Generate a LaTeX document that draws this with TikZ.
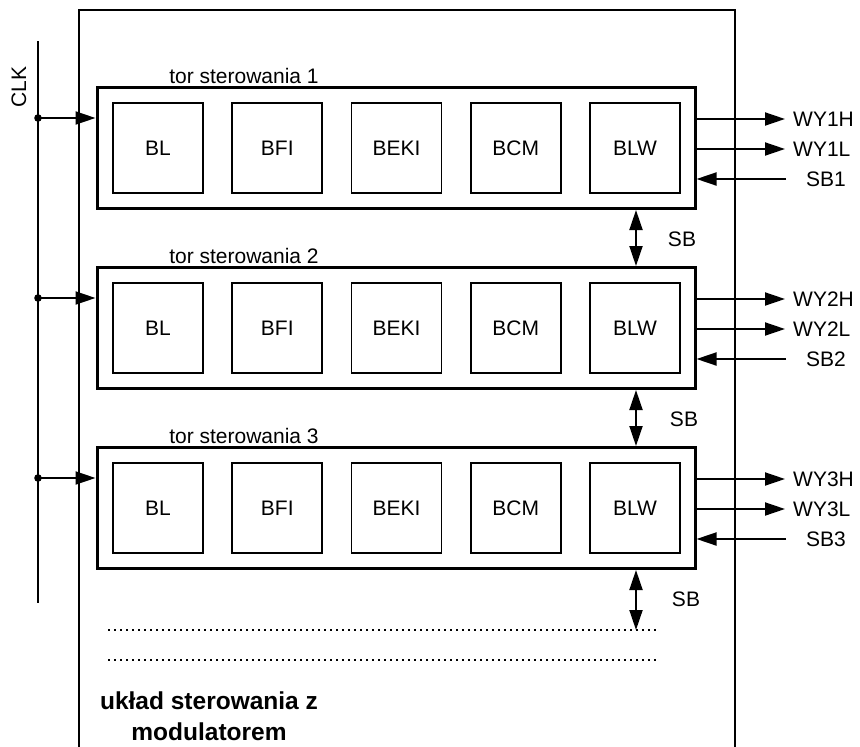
\documentclass[tikz,border=0pt]{standalone}
\usepackage{fontspec}
\setmainfont{Liberation Sans}
\usetikzlibrary{arrows.meta,calc}
\begin{document}
\begin{tikzpicture}[x=1pt,y=-1pt,
  lbl/.style={font=\fontsize{21}{24}\selectfont, inner sep=0pt},
  torbox/.style={draw, line width=3pt, minimum width=598pt, minimum height=121pt, inner sep=0pt},
  blk/.style={draw, line width=1.7pt, minimum size=90pt, inner sep=0pt, font=\fontsize{21}{24}\selectfont},
  sig/.style={line width=1.9pt, -{Triangle[length=20pt,width=13pt]}},
  bidir/.style={line width=1.9pt, {Triangle[length=20pt,width=13pt]}-{Triangle[length=20pt,width=13pt]}},
  dotline/.style={line width=1.5pt, dash pattern=on 1.5pt off 4.5pt},
  frame/.style={line width=2.2pt}]
\useasboundingbox (0,0) rectangle (860,747);
% outer frame (open at the bottom)
\draw[frame] (79,747) -- (79,10) -- (735,10) -- (735,747);
% CLK line
\coordinate (clktop) at (38,41);
\coordinate (clkbot) at (38,603);
\draw[line width=1.9pt] (clktop) -- (clkbot);
\node[lbl, rotate=90] (clk) at (19,87) {CLK};
% three control paths
\foreach \i/\y in {1/148, 2/328, 3/508} {
  \node[torbox] (t\i) at (396,\y) {};
  \node[lbl, anchor=south] (tl\i) at (244,\y-64) {tor sterowania \i};
  \node[blk] (bl\i) at (158,\y) {BL};
  \node[blk] (bfi\i) at (277.25,\y) {BFI};
  \node[blk] (beki\i) at (396.5,\y) {BEKI};
  \node[blk] (bcm\i) at (515.75,\y) {BCM};
  \node[blk] (blw\i) at (635,\y) {BLW};
  % clock branch
  \coordinate (cb\i) at (38,\y-30);
  \fill (cb\i) circle (3.8pt);
  \draw[sig] (cb\i) -- (t\i.west |- cb\i);
  % outputs
  \coordinate (oh\i) at (785,\y-29);
  \coordinate (ol\i) at (785,\y+1);
  \coordinate (ib\i) at (786,\y+31);
  \draw[sig] (t\i.east |- oh\i) -- (oh\i);
  \draw[sig] (t\i.east |- ol\i) -- (ol\i);
  \draw[sig] (ib\i) -- (t\i.east |- ib\i);
  \node[lbl, anchor=west] (woh\i) at (793,\y-29) {WY\i H};
  \node[lbl, anchor=west] (wol\i) at (793,\y+1) {WY\i L};
  \node[lbl, anchor=west] (wsb\i) at (806,\y+31) {SB\i};
}
% SB links
\draw[bidir] (t1.south -| 636,0) -- (t2.north -| 636,0);
\draw[bidir] (t2.south -| 636,0) -- (t3.north -| 636,0);
\coordinate (sbend) at (636,630);
\draw[bidir] (t3.south -| sbend) -- (sbend);
\node[lbl] (sb1) at (682,239) {SB};
\node[lbl] (sb2) at (684,419) {SB};
\node[lbl] (sb3) at (686,599) {SB};
% dotted continuation
\coordinate (d1a) at (108,630); \coordinate (d1b) at (660,630);
\coordinate (d2a) at (108,660); \coordinate (d2b) at (660,660);
\draw[dotline] (d1a) -- (d1b);
\draw[dotline] (d2a) -- (d2b);
% title
\node[font=\bfseries\fontsize{24.5}{31}\selectfont, align=center, inner sep=0pt] (title) at (209,716) {układ sterowania z\\modulatorem};
\end{tikzpicture}
\end{document}
